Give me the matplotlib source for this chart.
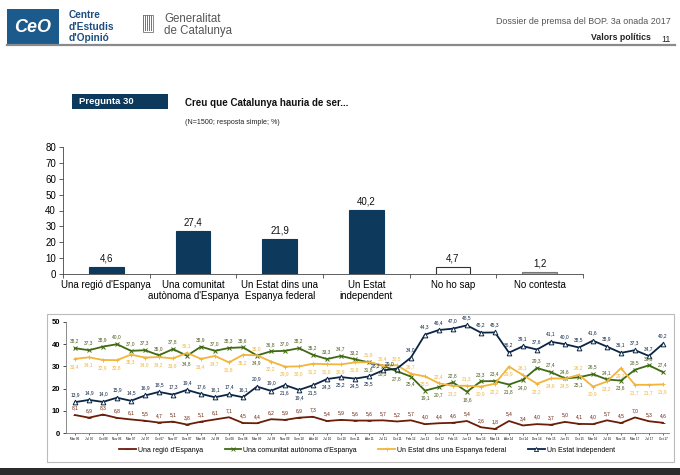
import matplotlib
matplotlib.use("Agg")
import matplotlib.pyplot as plt
from matplotlib.patches import Rectangle
from matplotlib.lines import Line2D

plt.rcParams['font.family'] = ['Liberation Sans', 'DejaVu Sans']

# ---------------- data ----------------
bar_categories = ["Una regió d'Espanya", "Una comunitat\nautònoma d'Espanya",
                  "Un Estat dins una\nEspanya federal", "Un Estat\nindependent",
                  "No ho sap", "No contesta"]
bar_values = [4.6, 27.4, 21.9, 40.2, 4.7, 1.2]

waves = ["Mar 06", "Jul 06", "Oct 06", "Nov 06", "Mar 07", "Jul 07", "Oct 07", "Nov 07",
         "Des 07", "Mar 08", "Jul 08", "Oct 08", "Des 08", "Mar 09", "Jul 09", "Nov 09",
         "Gen 10", "Abr 10", "Jul 10", "Oct 10", "Gen 11", "Abr 11", "Jul 11", "Oct 11",
         "Feb 12", "Jun 12", "Oct 12", "Feb 13", "Jun 13", "Nov 13", "Mar 14", "Abr 14",
         "Oct 14", "Des 14", "Feb 15", "Jun 15", "Oct 15", "Mar 16", "Jul 16", "Nov 16",
         "Mar 17", "Jul 17", "Oct 17"]
regio = [8.1, 6.9, 8.3, 6.8, 6.1, 5.5, 4.7, 5.1, 3.8, 5.1, 6.1, 7.1, 4.5, 4.4, 6.2,
         5.9, 6.9, 7.3, 5.4, 5.9, 5.6, 5.6, 5.7, 5.2, 5.7, 4.0, 4.4, 4.6, 5.4, 2.6,
         1.8, 5.4, 3.4, 4.0, 3.7, 5.0, 4.1, 4.0, 5.7, 4.5, 7.0, 5.3, 4.6]
comunitat = [38.2, 37.3, 38.9, 40.0, 37.0, 37.3, 35.0, 37.8, 34.8, 38.9, 37.0, 38.3,
             38.6, 34.9, 36.8, 37.0, 38.2, 35.2, 33.3, 34.7, 33.2, 31.8, 30.3, 27.8,
             25.4, 19.1, 20.7, 22.8, 18.6, 23.3, 23.4, 21.8, 24.0, 29.3, 27.4, 24.6,
             25.1, 26.5, 24.1, 23.6, 28.5, 30.5, 27.4]
federal = [33.4, 34.1, 32.9, 32.8, 35.3, 34.0, 34.2, 33.6, 36.1, 33.4, 34.7, 31.8,
           35.2, 35.0, 32.2, 29.9, 30.0, 31.2, 31.0, 30.9, 31.8, 31.9, 30.4, 30.5,
           26.7, 25.5, 22.4, 21.2, 21.3, 20.9, 22.2, 29.9, 26.1, 22.2, 24.6, 24.5,
           26.2, 20.9, 23.2, 29.2, 21.7, 21.7, 21.9]
independent = [13.9, 14.9, 14.0, 15.9, 14.5, 16.9, 18.5, 17.3, 19.4, 17.6, 16.1, 17.4,
               16.1, 20.9, 19.0, 21.6, 19.4, 21.5, 24.3, 25.2, 24.5, 25.5, 28.2, 29.0,
               34.0, 44.3, 46.4, 47.0, 48.5, 45.2, 45.3, 36.2, 39.1, 37.6, 41.1, 40.0,
               38.5, 41.6, 38.9, 36.1, 37.3, 34.7, 40.2]
series_names = ["Una regió d'Espanya", "Una comunitat autònoma d'Espanya",
                "Un Estat dins una Espanya federal", "Un Estat independent"]

# ---------------- figure ----------------
W, H = 680, 475
fig = plt.figure(figsize=(W / 100, H / 100), dpi=100)
fig.patch.set_facecolor("white")


def ax_px(l, t, r, b, **kw):
    return fig.add_axes([l / W, 1 - b / H, (r - l) / W, (b - t) / H], **kw)


ov = ax_px(0, 0, W, H)
ov.set_xlim(0, W)
ov.set_ylim(H, 0)
ov.axis("off")

navy = "#0d3a5c"
# CEO logo
ov.add_patch(Rectangle((7, 9), 52, 36, facecolor="#1c5a8c", edgecolor="none"))
ov.text(33, 28, "CeO", color="white", fontsize=13, fontweight="bold",
        ha="center", va="center", style="italic")
for i, t in enumerate(["Centre", "d'Estudis", "d'Opinió"]):
    ov.text(69, 15 + 11.5 * i, t, color="#1c4f80", fontsize=7.3, fontweight="bold",
            va="center", ha="left")
# Generalitat emblem
for k in range(5):
    ov.add_patch(Rectangle((143 + 2 * k, 15), 1.2, 16, facecolor="#777777", edgecolor="none"))
ov.add_patch(Rectangle((142.5, 14.5), 10.5, 17, facecolor="none", edgecolor="#777777", lw=0.6))
ov.text(164, 19, "Generalitat", color="#555555", fontsize=8.3, va="center")
ov.text(164, 31, "de Catalunya", color="#555555", fontsize=8.3, va="center")
# right header
ov.text(671, 22, "Dossier de premsa del BOP. 3a onada 2017", color="#555555",
        fontsize=6.4, ha="right", va="center")
ov.text(651, 37, "Valors polítics", color="#222222", fontsize=6.3, fontweight="bold",
        ha="right", va="center")
ov.text(671, 39, "11", color="#222222", fontsize=6.3, ha="right", va="center")
ov.plot([7, 675], [45, 45], color="#8a8a8a", lw=1.6)

# Pregunta box and title
ov.add_patch(Rectangle((72, 94), 96, 15, facecolor=navy, edgecolor="none"))
ov.text(79, 101.5, "Pregunta 30", color="white", fontsize=6.8, fontweight="bold", va="center")
ov.text(185, 103, "Creu que Catalunya hauria de ser...", color="#111111", fontsize=7,
        fontweight="bold", va="center")
ov.text(185, 122, "(N=1500; resposta simple; %)", color="#222222", fontsize=5.1, va="center")

# line chart frame
ov.add_patch(Rectangle((47, 314), 627, 148, facecolor="none", edgecolor="#bbbbbb", lw=0.8))
# bottom dark band
ov.add_patch(Rectangle((0, 468), W, 7, facecolor="#2b2b2b", edgecolor="none"))

# ---------------- bar chart ----------------
bx = ax_px(63, 147, 583, 274)
xs = list(range(len(bar_values)))
face = [navy, navy, navy, navy, "white", "#a6a6a6"]
edge = [navy, navy, navy, navy, "#333333", "#777777"]
bx.bar(xs, bar_values, width=0.4, color=face, edgecolor=edge, linewidth=0.8)
for x, v in zip(xs, bar_values):
    bx.text(x, v + 2.2, f"{v:.1f}".replace(".", ","), ha="center", va="bottom",
            fontsize=7, color="#111111")
bx.set_xlim(-0.5, len(bar_values) - 0.5)
bx.set_ylim(0, 80)
bx.set_yticks(range(0, 81, 10))
bx.tick_params(axis="y", labelsize=7, length=3, width=0.6, color="#444444", pad=2)
bx.set_xticks(xs)
bx.set_xticklabels(bar_categories, fontsize=7, linespacing=1.15)
bx.tick_params(axis="x", length=0, pad=4)
bx.set_xticks([x + 0.5 for x in xs[:-1]] + [-0.5, len(xs) - 0.5], minor=True)
bx.tick_params(axis="x", which="minor", length=3, width=0.6, color="#444444")
for s in ["top", "right"]:
    bx.spines[s].set_visible(False)
for s in ["left", "bottom"]:
    bx.spines[s].set_color("#444444")
    bx.spines[s].set_linewidth(0.6)
bx.patch.set_alpha(0)

# ---------------- line chart ----------------
lx = ax_px(66, 322, 669, 433)
idx = list(range(1, len(waves) + 1))
col_reg = "#6b1d08"
col_com = "#3f6a12"
col_fed = "#f2b53a"
col_ind = "#0b2545"
lx.plot(idx, regio, color=col_reg, lw=1.3, marker="_", ms=3, mew=0.6)
lx.plot(idx, comunitat, color=col_com, lw=1.3, marker="x", ms=3.2, mew=0.7)
lx.plot(idx, federal, color=col_fed, lw=1.3, marker="+", ms=3.2, mew=0.7)
lx.plot(idx, independent, color=col_ind, lw=1.3, marker="^", ms=3.4, mew=0.7,
        markerfacecolor="white")


def fmt(v):
    return f"{v:.1f}".replace(".", ",")


def put(i, v, color, dy, dx=0, ha="center"):
    lx.annotate(fmt(v), (i, v), xytext=(dx, dy), textcoords="offset points",
                ha=ha, va="center", fontsize=3.5, color=color)


for i, r, c, f, n in zip(idx, regio, comunitat, federal, independent):
    put(i, r, col_reg, 5)
    gap = f - c
    fed_above = 0 <= gap < 4.5
    put(i, f, "#f0b43c", 5 if fed_above else -5.5)
    put(i, c, "#4a5a1a", -5.5 if 0 <= gap < 11 else 5)
    if fed_above and 0 < f - n < 3:
        # crowded crossing: put the navy label to the upper left of its marker
        put(i, n, col_ind, 3.5, dx=-2, ha="right")
    else:
        put(i, n, col_ind, -5.5 if 4 < f - n < 11 else 5.5)

lx.set_xlim(0.36, len(waves) + 0.43)
lx.set_ylim(0, 50)
lx.set_yticks(range(0, 51, 10))
lx.tick_params(axis="y", labelsize=5.5, length=2, width=0.5, pad=2)
for t in lx.get_yticklabels():
    t.set_fontweight("bold")
lx.set_xticks(idx)
lx.set_xticklabels(waves, fontsize=2.2)
lx.tick_params(axis="x", length=1.5, width=0.4, pad=1.5)
for s in ["top", "right"]:
    lx.spines[s].set_visible(False)
for s in ["left", "bottom"]:
    lx.spines[s].set_color("#777777")
    lx.spines[s].set_linewidth(0.6)
lx.patch.set_alpha(0)

handles = [Line2D([], [], color=c, lw=1.3, marker=m, ms=3, mew=0.6,
                  markerfacecolor=mf)
           for c, m, mf in [(col_reg, "_", col_reg), (col_com, "x", col_com),
                            (col_fed, "+", col_fed), (col_ind, "^", "white")]]
fig.legend(handles, series_names, loc="center", bbox_to_anchor=(367 / W, 1 - 450 / H),
           ncol=4, frameon=False, fontsize=5, handlelength=2.4, columnspacing=3.1,
           handletextpad=0.3)

fig.savefig("out.png", dpi=100)
